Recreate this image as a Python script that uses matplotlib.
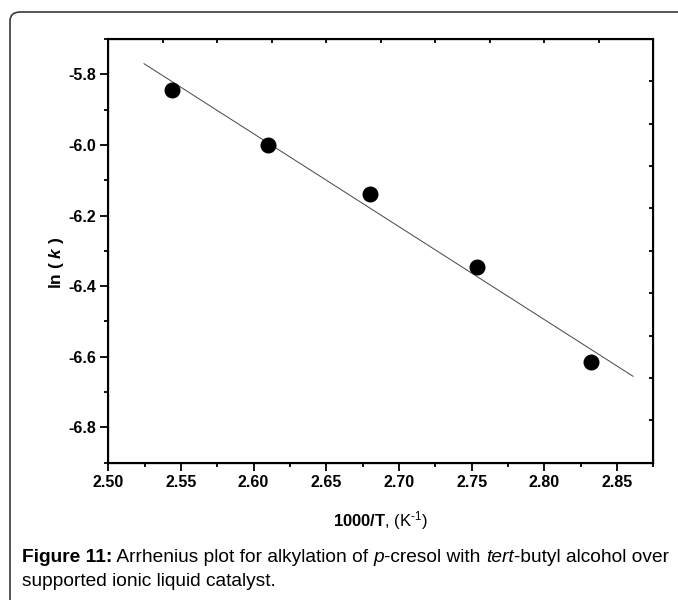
import numpy as np
import matplotlib.pyplot as plt
from matplotlib.patches import FancyBboxPatch
from matplotlib.ticker import MultipleLocator, FixedLocator, NullFormatter
from matplotlib.transforms import offset_copy

plt.rcParams['font.family'] = ['Liberation Sans', 'DejaVu Sans']
plt.rcParams['mathtext.fontset'] = 'custom'
plt.rcParams['mathtext.rm'] = 'Liberation Sans'
plt.rcParams['mathtext.it'] = 'Liberation Sans:italic'
plt.rcParams['mathtext.bf'] = 'Liberation Sans:bold'
plt.rcParams['mathtext.bfit'] = 'Liberation Sans:bold:italic'

# 1000/T (K^-1) and ln(k)
inv_T = [2.5436, 2.610, 2.680, 2.7538, 2.8318]
ln_k = [-5.844, -6.000, -6.1385, -6.347, -6.615]
fit_range = [2.5246, 2.861]

xticks = [2.50, 2.55, 2.60, 2.65, 2.70, 2.75, 2.80, 2.85]
yticks = [-5.8, -6.0, -6.2, -6.4, -6.6, -6.8]

caption1 = [('Figure 11:', 'bold', 'normal'),
            (' Arrhenius plot for alkylation of ', 'normal', 'normal'),
            ('p', 'normal', 'italic'),
            ('-cresol with ', 'normal', 'normal'),
            ('tert', 'normal', 'italic'),
            ('-butyl alcohol over', 'normal', 'normal')]
caption2 = 'supported ionic liquid catalyst.'

tick_font = ['Liberation Sans Narrow', 'Liberation Sans']

fig = plt.figure(figsize=(6.78, 6.0), dpi=100)

# panel frame, rounded at the top-left, running off the page
frame = FancyBboxPatch((10 / 678, -0.2), 1.2, 1.2 - 12 / 600,
                       boxstyle='round,pad=0,rounding_size=0.015',
                       transform=fig.transFigure, fill=False,
                       edgecolor='#3a3a3a', linewidth=1.2)
fig.patches.append(frame)

ax = fig.add_axes([0.1597, 0.2288, 0.8039, 0.7062])

# least-squares line through the points
slope, icept = np.polyfit(inv_T, ln_k, 1)
xf = np.array(fit_range)
ax.plot(xf, slope * xf + icept, color='#444444', lw=0.7, zorder=2)
ax.plot(inv_T, ln_k, 'o', color='black', ms=10.5, zorder=3)

ax.set_xlim(2.50, 2.875)
ax.set_ylim(-6.9, -5.7)
ax.xaxis.set_major_locator(FixedLocator(xticks))
ax.xaxis.set_minor_locator(MultipleLocator(0.025))
ax.yaxis.set_major_locator(FixedLocator(yticks))
ax.yaxis.set_minor_locator(MultipleLocator(0.1))
ax.set_xticklabels(['%.2f' % v for v in xticks])
ax.set_yticklabels(['%.1f' % v for v in yticks])
ax.tick_params(which='major', direction='out', length=6, width=1.3, pad=3)
ax.tick_params(which='minor', direction='out', length=3, width=1.3)
for lab in ax.get_xticklabels() + ax.get_yticklabels():
    lab.set_fontweight('bold')
    lab.set_family(tick_font)
    lab.set_fontsize(11.5)
for sp in ax.spines.values():
    sp.set_linewidth(1.5)

# top and right axes carry their own evenly spaced inward ticks
top = ax.twiny()
top.set_xlim(0, 10)
top.xaxis.set_major_locator(FixedLocator(range(1, 10)))
top.xaxis.set_major_formatter(NullFormatter())
top.tick_params(axis='x', direction='in', length=3, width=1.3)
right = ax.twinx()
right.set_ylim(0, 10)
right.yaxis.set_major_locator(FixedLocator(range(1, 10)))
right.yaxis.set_major_formatter(NullFormatter())
right.tick_params(axis='y', direction='in', length=3, width=1.3)

fig.text(57 / 678, 1 - 263 / 600, r'ln ( $\mathbfit{k}$ )', rotation=90,
         ha='center', va='center', fontsize=12.5, fontweight='bold')
fig.text(381 / 678, 1 - 521 / 600,
         r'$\mathbf{1000/T}$, (K$^{\text{-1}}$)',
         ha='center', va='center', fontsize=12)

# caption: pieces laid side by side so bold and italic runs share one line
renderer = fig.canvas.get_renderer()
x0, y0 = 22 / 678, 1 - 558 / 600
offset = 0.0
for txt, weight, style in caption1:
    t = fig.text(x0, y0, txt, ha='left', va='center', fontsize=13.8,
                 fontweight=weight, fontstyle=style,
                 transform=offset_copy(fig.transFigure, fig=fig,
                                       x=offset, y=0, units='points'))
    w = t.get_window_extent(renderer).width
    offset += w * 72.0 / fig.dpi
fig.text(x0, 1 - 581 / 600, caption2, ha='left', va='center', fontsize=13.8)

fig.savefig('out.png', dpi=100)
